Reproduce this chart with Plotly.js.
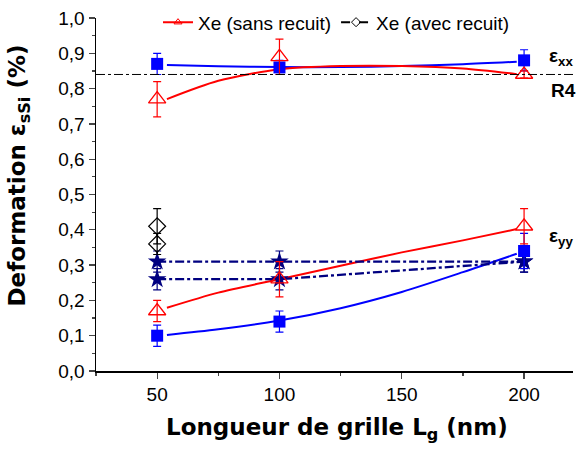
<!DOCTYPE html>
<html>
<head>
<meta charset="utf-8">
<script src="https://cdn.plot.ly/plotly-3.0.1.min.js"></script>
<style>html,body{margin:0;padding:0;background:#fff;}#chart{width:577px;height:450px;}</style>
</head>
<body>
<div id="chart"></div>
<script>
// Gate lengths (nm)
const gateLength = [50, 100, 200];
// eps_xx
const sqXX = [0.87, 0.86, 0.88];
const sqXXErr = [0.03, 0.02, 0.03];
const triXX = [0.77, 0.89, 0.84];
const triXXErr = [0.05, 0.05, 0.01];
// eps_yy
const sqYY = [0.10, 0.14, 0.34];
const sqYYErr = [0.03, 0.03, 0.05];
const triYY = [0.17, 0.26, 0.41];
const triYYErr = [0.03, 0.05, 0.05];
const starA = [0.31, 0.31, 0.31];
const starAErr = [0.03, 0.03, 0.03];
const starB = [0.26, 0.26, 0.31];
const starBErr = [0.03, 0.03, 0.03];
// Xe annealed (only at 50 nm)
const diamondX = [50, 50];
const diamondY = [0.41, 0.36];
const diamondErr = [0.05, 0.03];
// Fit curves
const fitX = [54, 75, 100, 125, 150, 175, 197];
const fitSqXX = [0.867, 0.863, 0.861, 0.861, 0.864, 0.869, 0.876];
const fitTriXX = [0.770, 0.822, 0.855, 0.864, 0.864, 0.857, 0.841];
const fitSqYY = [0.102, 0.118, 0.143, 0.178, 0.224, 0.280, 0.332];
const fitTriYY = [0.179, 0.222, 0.260, 0.298, 0.336, 0.370, 0.402];
// R4 reference level
const r4Level = 0.84;
// Tick values
const xTicks = [50, 100, 150, 200];
const legendNames = ["Xe (sans recuit)", "Xe (avec recuit)"];

const BLUE = "#0000ff", RED = "#ff0000", NAVY = "#000080", BLACK = "#000000";
const TITLEFONT = "DejaVu Sans, sans-serif";
const errStyle = (arr, c) => ({type: "data", array: arr, visible: true, color: c, thickness: 1.2, width: 4});

const traces = [
  // fit lines
  {x: fitX, y: fitSqXX, mode: "lines", line: {color: BLUE, width: 2, shape: "spline", smoothing: 0.8}, showlegend: false, hoverinfo: "skip"},
  {x: fitX, y: fitTriXX, mode: "lines", line: {color: RED, width: 2, shape: "spline", smoothing: 0.8}, showlegend: false, hoverinfo: "skip"},
  {x: fitX, y: fitSqYY, mode: "lines", line: {color: BLUE, width: 2, shape: "spline", smoothing: 0.8}, showlegend: false, hoverinfo: "skip"},
  {x: fitX, y: fitTriYY, mode: "lines", line: {color: RED, width: 2, shape: "spline", smoothing: 0.8}, showlegend: false, hoverinfo: "skip"},
  // stars
  {x: gateLength, y: starA, mode: "lines+markers", line: {color: NAVY, width: 2.3, dash: "dashdot"},
   marker: {symbol: "star", size: 14, color: NAVY}, error_y: errStyle(starAErr, NAVY), showlegend: false},
  {x: gateLength, y: starB, mode: "lines+markers", line: {color: NAVY, width: 2.3, dash: "dashdot"},
   marker: {symbol: "star", size: 14, color: NAVY}, error_y: errStyle(starBErr, NAVY), showlegend: false},
  // diamonds
  {x: diamondX, y: diamondY, mode: "markers", marker: {symbol: "diamond-open", size: 13, color: BLACK, line: {width: 1.2}},
   error_y: errStyle(diamondErr, BLACK), showlegend: false},
  // squares
  {x: gateLength, y: sqXX, mode: "markers", marker: {symbol: "square", size: 12, color: BLUE},
   error_y: errStyle(sqXXErr, BLUE), showlegend: false},
  {x: gateLength, y: sqYY, mode: "markers", marker: {symbol: "square", size: 12, color: BLUE},
   error_y: errStyle(sqYYErr, BLUE), showlegend: false},
  // triangles
  {x: gateLength, y: triXX, mode: "markers", marker: {symbol: "triangle-up-open", size: 15, color: RED, line: {width: 1.3}},
   error_y: errStyle(triXXErr, RED), showlegend: false},
  {x: gateLength, y: triYY, mode: "markers", marker: {symbol: "triangle-up-open", size: 15, color: RED, line: {width: 1.3}},
   error_y: errStyle(triYYErr, RED), showlegend: false},
  // legend entries
  {x: [null], y: [null], mode: "lines+markers", name: legendNames[0],
   line: {color: RED, width: 2}, marker: {symbol: "triangle-up-open", size: 7, color: RED}},
  {x: [null], y: [null], mode: "lines+markers", name: legendNames[1],
   line: {color: BLACK, width: 2, dash: "dash"}, marker: {symbol: "diamond-open", size: 7, color: BLACK}}
];

const layout = {
  width: 577, height: 450,
  margin: {l: 96, r: 4, t: 17, b: 79},
  paper_bgcolor: "#fff", plot_bgcolor: "#fff",
  separators: ", ",
  font: {family: "Liberation Sans, Arial, sans-serif", size: 19, color: "#000"},
  showlegend: true,
  legend: {orientation: "h", x: 0.13, xanchor: "left", y: 0.985, yanchor: "middle",
           bgcolor: "rgba(0,0,0,0)", font: {size: 19}, itemwidth: 30, tracegroupgap: 0},
  xaxis: {range: [25, 220], tickvals: xTicks, ticks: "outside", ticklen: 6, tickwidth: 1.3,
          showline: true, linewidth: 1.5, linecolor: "#000", showgrid: false, zeroline: false,
          minor: {dtick: 25, tick0: 0, ticks: "outside", ticklen: 3, tickwidth: 1.2, showgrid: false},
          tickfont: {size: 19}},
  yaxis: {range: [0, 1.0], dtick: 0.1, tickformat: ".1f", ticks: "outside", ticklen: 6, tickwidth: 1.3,
          showline: true, linewidth: 1.5, linecolor: "#000", showgrid: false, zeroline: false,
          minor: {dtick: 0.05, ticks: "outside", ticklen: 3, tickwidth: 1.2, showgrid: false},
          tickfont: {size: 19}},
  shapes: [
    {type: "line", xref: "paper", x0: 0, x1: 1, yref: "y", y0: r4Level, y1: r4Level,
     line: {color: BLACK, width: 1, dash: "dashdot"}}
  ],
  annotations: [
    {xref: "paper", yref: "paper", x: 0.505, xanchor: "center", y: -0.165, yanchor: "middle", showarrow: false,
     text: "<b>Longueur de grille L<sub>g</sub> (nm)</b>", font: {size: 23, family: TITLEFONT}},
    {xref: "paper", yref: "paper", x: -0.162, xanchor: "center", y: 0.553, yanchor: "middle", textangle: -90, showarrow: false,
     text: "<b>Deformation ε<sub>sSi</sub> (%)</b>", font: {size: 23, family: TITLEFONT}},
    {xref: "x", yref: "y", x: 215, y: 0.89, showarrow: false, text: "<b>ε<sub>xx</sub></b>", font: {size: 19}},
    {xref: "x", yref: "y", x: 216, y: 0.795, showarrow: false, text: "<b>R4</b>", font: {size: 19}},
    {xref: "x", yref: "y", x: 215, y: 0.38, showarrow: false, text: "<b>ε<sub>yy</sub></b>", font: {size: 19}}
  ]
};

Plotly.newPlot("chart", traces, layout, {staticPlot: true, displayModeBar: false});
</script>
</body>
</html>
